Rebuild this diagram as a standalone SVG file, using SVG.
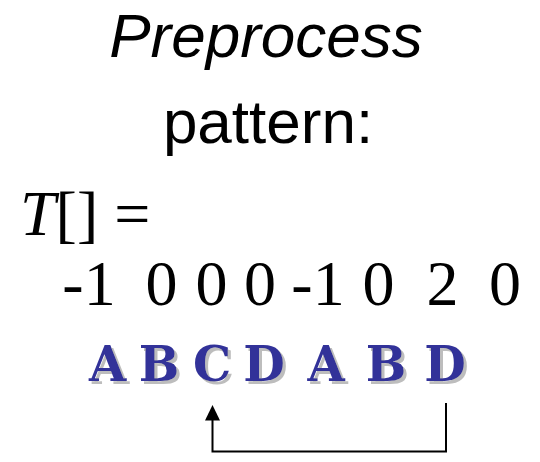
<svg xmlns="http://www.w3.org/2000/svg" width="540" height="462" viewBox="0 0 540 462">
  <style>
    .title { font-family: "Liberation Sans", Arial, sans-serif; font-size: 62px; fill: #000; text-anchor: middle; }
    .math { font-family: "Liberation Serif", "Times New Roman", serif; font-size: 64px; fill: #000; }
    .num { text-anchor: middle; }
    .pat { font-family: "DejaVu Serif", "Courier New", serif; font-weight: bold; font-size: 48px; text-anchor: middle; fill: #333399; filter: url(#letterShadow); }
    .conn { fill: none; stroke: #000; stroke-width: 2; }
  </style>
  <defs>
    <!-- soft grey drop shadow behind the pattern letters -->
    <filter id="letterShadow" x="-20%" y="-20%" width="150%" height="150%">
      <feOffset in="SourceAlpha" dx="3" dy="3" result="off"/>
      <feFlood flood-color="#bdbdbd"/>
      <feComposite in2="off" operator="in" result="shadow"/>
      <feMerge>
        <feMergeNode in="shadow"/>
        <feMergeNode in="SourceGraphic"/>
      </feMerge>
    </filter>
  </defs>
  <rect width="540" height="462" fill="#fff"/>

  <g id="heading">
    <text class="title" x="266" y="57" font-style="italic">Preprocess</text>
    <text class="title" x="268" y="143">pattern:</text>
  </g>

  <g id="table-label">
    <text class="math" x="20" y="235"><tspan font-style="italic">T</tspan>[] =</text>
  </g>

  <g id="table-values" class="math num">
    <text x="89" y="305">-1</text>
    <text x="161.5" y="305">0</text>
    <text x="211.5" y="305">0</text>
    <text x="260" y="305">0</text>
    <text x="318" y="305">-1</text>
    <text x="378.5" y="305">0</text>
    <text x="442.5" y="305">2</text>
    <text x="505" y="305">0</text>
  </g>

  <g id="pattern" class="pat">
    <text x="107.5" y="381">A</text>
    <text x="159" y="381">B</text>
    <text x="212" y="381">C</text>
    <text x="264" y="381">D</text>
    <text x="326" y="381">A</text>
    <text x="386" y="381">B</text>
    <text x="445" y="381">D</text>
  </g>

  <g id="connectors">
    <path class="conn" d="M446,403 V451.5 H212.5 V420"/>
    <path d="M212.5,405 L220,420.5 L205,420.5 Z" fill="#000"/>
  </g>
</svg>
